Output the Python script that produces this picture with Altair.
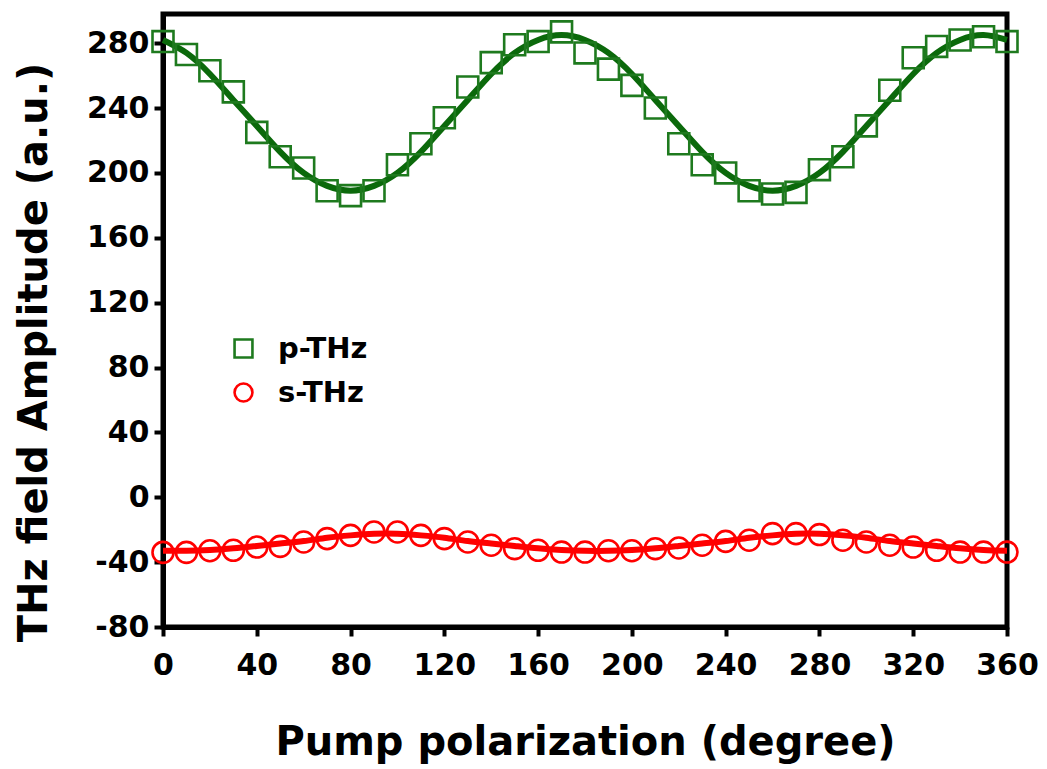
import altair as alt
import pandas as pd

angles = list(range(0, 361, 10))

p_thz = [281, 273, 263, 250, 225, 210, 203, 189, 186, 189, 205, 218, 234, 253, 268,
         279, 281, 287, 274, 264, 254, 240, 218, 205, 200, 189, 187, 188, 202, 210,
         229, 251, 271, 278, 282, 284, 281]
s_thz = [-34, -34, -33, -32.7, -30.7, -30.3, -27.6, -25.5, -23.5, -21.4, -21.4, -23.5,
         -25.5, -27.6, -29.6, -31.7, -32.7, -33.8, -33.8, -33, -33, -31.7, -31.3, -29.6,
         -27.2, -26.5, -22.4, -22.4, -23, -26.5, -27.6, -29.6, -30.7, -32.7, -33.8, -33.8,
         -33.8]

p_fit = [282, 274, 261, 245, 229, 213, 200, 192, 189, 192, 200, 213, 229, 245, 261,
         274, 282, 285, 282, 274, 261, 245, 229, 213, 200, 192, 189, 192, 200, 213,
         229, 245, 261, 274, 282, 285, 282]
s_fit = [-33, -33, -32.5, -31.5, -30, -28.5, -27, -25, -23.5, -22.5, -22.5, -23.5,
         -25, -27, -28.5, -30, -31.5, -32.5, -33, -33, -32.5, -31.5, -30, -28.5, -27,
         -25, -23.5, -22.5, -22.5, -23.5, -25, -27, -28.5, -30, -31.5, -32.5, -33]

series_names = ["p-THz", "s-THz"]
x_ticks = list(range(0, 361, 40))
y_ticks = list(range(-80, 281, 40))

pts = pd.DataFrame({
    "angle": angles * 2,
    "value": p_thz + s_thz,
    "series": [series_names[0]] * len(angles) + [series_names[1]] * len(angles),
})
fit_p = pd.DataFrame({"angle": angles, "value": p_fit})
fit_s = pd.DataFrame({"angle": angles, "value": s_fit})

FONT = "DejaVu Sans"
GREEN_LINE = "#0b690b"
GREEN_PT = "#1e7a1e"
RED = "#ff0000"

xenc = alt.X("angle:Q", scale=alt.Scale(domain=[0, 360], nice=False, zero=False),
             axis=alt.Axis(values=x_ticks, title="Pump polarization (degree)",
                           labelExpr="'' + datum.value"))
yenc = alt.Y("value:Q", scale=alt.Scale(domain=[-80, 298], nice=False, zero=False),
             axis=alt.Axis(values=y_ticks, title="THz field Amplitude (a.u.)",
                           labelExpr="'' + datum.value", titleY=338))

line_p = alt.Chart(fit_p).mark_line(strokeWidth=6, color=GREEN_LINE, interpolate="natural").encode(
    x=xenc, y=yenc)
line_s = alt.Chart(fit_s).mark_line(strokeWidth=6, color=RED, interpolate="natural").encode(
    x=xenc, y=yenc)

leg = alt.Legend(title=None, orient="none", legendX=66, legendY=320,
                 labelFontSize=29, labelFont=FONT, labelFontWeight="bold",
                 labelColor="black", symbolSize=320, symbolStrokeWidth=2.6,
                 rowPadding=14, labelOffset=20)

points = alt.Chart(pts).mark_point(filled=False, strokeWidth=2.6, size=440, opacity=1).encode(
    x=xenc, y=yenc,
    color=alt.Color("series:N", scale=alt.Scale(domain=series_names, range=[GREEN_PT, RED]),
                    legend=leg),
    shape=alt.Shape("series:N", scale=alt.Scale(domain=series_names, range=["square", "circle"]),
                    legend=leg),
)

chart = alt.layer(line_p, line_s, points).properties(
    width=844, height=613,
    autosize=alt.AutoSizeParams(type="none"),
    padding={"left": 163, "top": 14, "right": 40, "bottom": 142},
    background="white",
).configure_view(
    stroke="black", strokeWidth=5
).configure_axis(
    grid=False,
    domainColor="black", domainWidth=5,
    tickColor="black", tickWidth=4, tickSize=9,
    labelFont=FONT, labelFontWeight="bold", labelFontSize=30, labelColor="black",
    labelFlush=False,
    titleFont=FONT, titleFontWeight="bold", titleColor="black",
).configure_axisX(
    labelPadding=14, titleFontSize=40, titlePadding=42
).configure_axisY(
    labelPadding=5, titleFontSize=40, titlePadding=32
)

chart.save("out.html", embed_options={"renderer": "svg", "actions": False})
